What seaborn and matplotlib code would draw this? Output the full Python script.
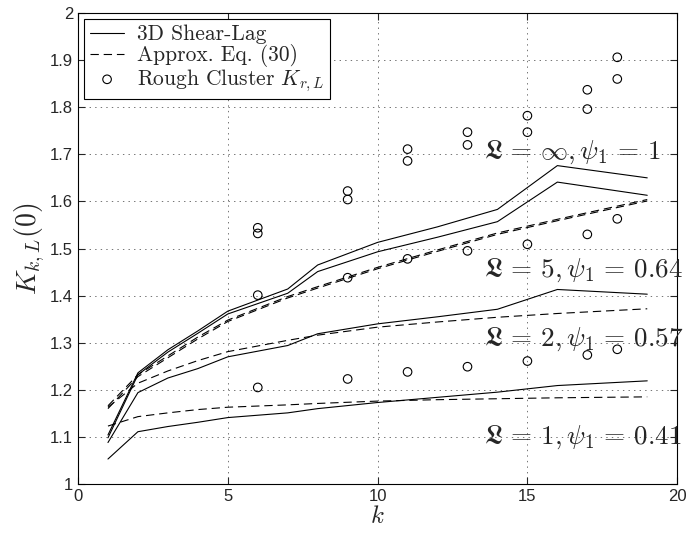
import numpy as np
import pandas as pd
import matplotlib
matplotlib.use('Agg')
import matplotlib.pyplot as plt
import seaborn as sns

# k points of the model curves
k_line = [1, 2, 3, 4, 5, 7, 8, 10, 12, 14, 16, 19]

# 3D shear-lag results, one curve per L
shear_inf = [1.104, 1.236, 1.285, 1.325, 1.367, 1.414, 1.465, 1.513, 1.546, 1.583, 1.676, 1.650]
shear_5 = [1.098, 1.232, 1.280, 1.320, 1.361, 1.405, 1.451, 1.493, 1.524, 1.557, 1.641, 1.613]
shear_2 = [1.088, 1.194, 1.225, 1.245, 1.270, 1.294, 1.319, 1.340, 1.355, 1.371, 1.413, 1.403]
shear_1 = [1.053, 1.111, 1.122, 1.131, 1.141, 1.151, 1.160, 1.173, 1.184, 1.195, 1.209, 1.219]

# approximate formula, Eq. (30)
approx_inf = [1.166, 1.232, 1.272, 1.312, 1.348, 1.398, 1.419, 1.460, 1.497, 1.533, 1.562, 1.604]
approx_5 = [1.160, 1.228, 1.268, 1.308, 1.345, 1.395, 1.416, 1.457, 1.494, 1.530, 1.559, 1.601]
approx_2 = [1.163, 1.214, 1.240, 1.262, 1.281, 1.305, 1.316, 1.333, 1.344, 1.354, 1.362, 1.372]
approx_1 = [1.123, 1.143, 1.151, 1.158, 1.163, 1.168, 1.171, 1.176, 1.179, 1.181, 1.183, 1.185]

# rough cluster points
k_pts = [6, 9, 11, 13, 15, 17, 18]
rough_inf = [1.544, 1.622, 1.711, 1.747, 1.782, 1.837, 1.906]
rough_5 = [1.532, 1.604, 1.686, 1.720, 1.747, 1.796, 1.860]
rough_2 = [1.401, 1.438, 1.478, 1.495, 1.509, 1.530, 1.563]
rough_1 = [1.205, 1.223, 1.238, 1.249, 1.261, 1.274, 1.286]

labels = [r'$\mathfrak{L}\,=\,\infty,\psi_1\,=\,1$',
          r'$\mathfrak{L}\,=\,5,\psi_1\,=\,0.64$',
          r'$\mathfrak{L}\,=\,2,\psi_1\,=\,0.57$',
          r'$\mathfrak{L}\,=\,1,\psi_1\,=\,0.41$']
label_y = [1.705, 1.454, 1.308, 1.100]
label_x = 13.55

sns.set_style('ticks')
plt.rcParams['font.family'] = ['Liberation Sans', 'DejaVu Sans']
plt.rcParams['mathtext.fontset'] = 'cm'
plt.rcParams['lines.scale_dashes'] = False

fig = plt.figure(figsize=(6.94, 5.38), dpi=100)
ax = fig.add_axes([0.1124, 0.1004, 0.8634, 0.8754])

dash = (0, (6, 3.5))
shear_all = [shear_inf, shear_5, shear_2, shear_1]
approx_all = [approx_inf, approx_5, approx_2, approx_1]
rough_all = [rough_inf, rough_5, rough_2, rough_1]

for i, s in enumerate(shear_all):
    sns.lineplot(x=k_line, y=s, ax=ax, color='black', lw=0.8,
                 label='3D Shear-Lag' if i == 0 else None)
for i, s in enumerate(approx_all):
    sns.lineplot(x=k_line, y=s, ax=ax, color='black', lw=0.8, linestyle=dash,
                 label='Approx. Eq. (30)' if i == 0 else None)
for i, s in enumerate(rough_all):
    sns.scatterplot(x=k_pts, y=s, ax=ax, marker='o', s=38, facecolor='none',
                    edgecolor='black', linewidth=0.8,
                    label=r'Rough Cluster $K_{r,L}$' if i == 0 else None)

for lab, y in zip(labels, label_y):
    ax.text(label_x, y, lab, fontsize=19.5, ha='left', va='center', clip_on=False)

ax.set_xlim(0, 20)
ax.set_ylim(1, 2)
ax.set_xticks(np.arange(0, 21, 5))
ax.set_yticks(np.round(np.arange(1, 2.01, 0.1), 1))
ax.set_yticklabels(['1', '1.1', '1.2', '1.3', '1.4', '1.5', '1.6', '1.7', '1.8', '1.9', '2'])
ax.tick_params(direction='in', top=True, right=True, labelsize=12, length=5, width=0.8)
ax.grid(True, linestyle=(0, (1, 3)), color='0.45', linewidth=0.7)
for sp in ax.spines.values():
    sp.set_visible(True)
    sp.set_color('black')
    sp.set_linewidth(0.8)

ax.set_xlabel(r'$k$', fontsize=18, labelpad=0)
ax.set_ylabel(r'$K_{k,L}(0)$', fontsize=20, labelpad=2)

leg = ax.legend(loc='upper left', prop={'family': 'cmr10', 'size': 15.5},
                fancybox=False, edgecolor='black', framealpha=1,
                borderaxespad=0.3, handlelength=1.6, handletextpad=0.6,
                labelspacing=0.0, borderpad=0.25)
leg.get_frame().set_linewidth(0.8)

fig.savefig('out.png', dpi=100)
